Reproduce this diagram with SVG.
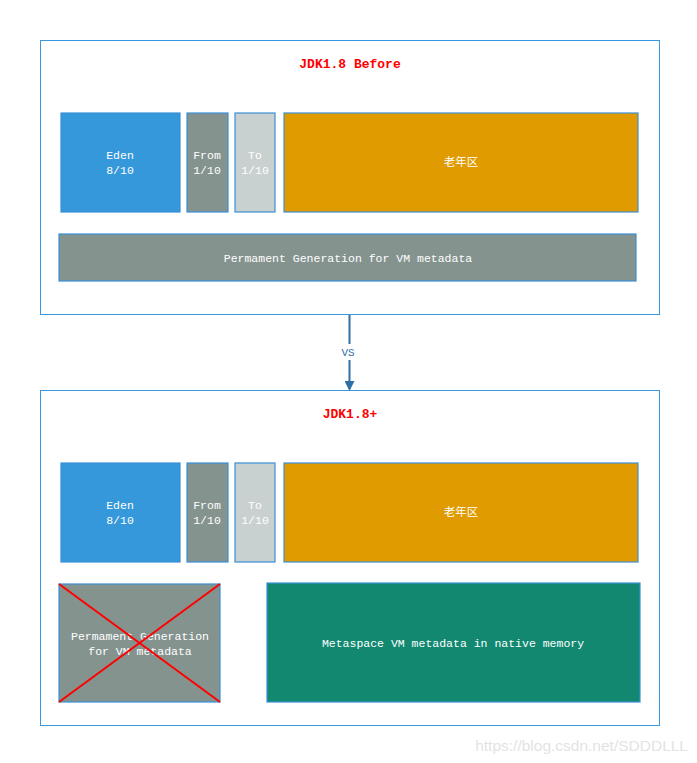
<svg xmlns="http://www.w3.org/2000/svg" width="697" height="763" viewBox="0 0 697 763">
<defs>
<style>
.frame{fill:#fff;stroke:#3a96dd;stroke-width:1}
.blk{stroke:#3a8fd6;stroke-width:1.2}
.t{font-family:"Liberation Mono","Noto Sans CJK SC",monospace;font-size:11.5px;fill:#fff;text-anchor:middle}
.title{font-family:"Liberation Mono",monospace;font-size:13px;font-weight:bold;fill:#ff0000;text-anchor:middle}
</style>
<marker id="ah" markerWidth="10" markerHeight="10" refX="8" refY="5" orient="auto" markerUnits="userSpaceOnUse">
<path d="M0,0 L10,5 L0,10 Z" fill="#2f6fa8"/>
</marker>
</defs>
<rect width="697" height="763" fill="#fff"/>
<g id="before">
<rect class="frame" x="40.5" y="40.5" width="619" height="274"/>
<text class="title" x="350" y="68">JDK1.8 Before</text>
</g>
<g id="eden1"><rect class="blk" x="61" y="113" width="119" height="99" fill="#3598db"/><text class="t" x="120" y="159">Eden</text><text class="t" x="120" y="174">8/10</text></g>
<g id="from1"><rect class="blk" x="187" y="113" width="41" height="99" fill="#85938f"/><text class="t" x="207" y="159">From</text><text class="t" x="207" y="174">1/10</text></g>
<g id="to1"><rect class="blk" x="235" y="113" width="40" height="99" fill="#c9d1d0"/><text class="t" x="255" y="159">To</text><text class="t" x="255" y="174">1/10</text></g>
<g id="old1"><rect class="blk" x="284" y="113" width="354" height="99" fill="#e09b00"/><text class="t" x="461" y="166">老年区</text></g>
<g id="perm1"><rect class="blk" x="59" y="234" width="577" height="47" fill="#85938f"/><text class="t" x="348" y="262">Permament Generation for VM metadata</text></g>
<g id="after">
<rect class="frame" x="40.5" y="390.5" width="619" height="335"/>
<text class="title" x="350" y="418">JDK1.8+</text>
</g>
<g id="eden2"><rect class="blk" x="61" y="463" width="119" height="99" fill="#3598db"/><text class="t" x="120" y="509">Eden</text><text class="t" x="120" y="524">8/10</text></g>
<g id="from2"><rect class="blk" x="187" y="463" width="41" height="99" fill="#85938f"/><text class="t" x="207" y="509">From</text><text class="t" x="207" y="524">1/10</text></g>
<g id="to2"><rect class="blk" x="235" y="463" width="40" height="99" fill="#c9d1d0"/><text class="t" x="255" y="509">To</text><text class="t" x="255" y="524">1/10</text></g>
<g id="old2"><rect class="blk" x="284" y="463" width="354" height="99" fill="#e09b00"/><text class="t" x="461" y="516">老年区</text></g>
<g id="perm2"><rect class="blk" x="59" y="584" width="161" height="118" fill="#85938f"/><text class="t" x="140" y="640">Permament Generation</text><text class="t" x="140" y="655">for VM metadata</text>
<line x1="59" y1="584" x2="220" y2="702" stroke="#ff0000" stroke-width="2"/><line x1="220" y1="584" x2="59" y2="702" stroke="#ff0000" stroke-width="2"/></g>
<g id="meta"><rect class="blk" x="267" y="583" width="373" height="119" fill="#128871"/><text class="t" x="453" y="647">Metaspace VM metadata in native memory</text></g>
<g id="connectors">
<line x1="349.5" y1="315" x2="349.5" y2="344" stroke="#2f6fa8" stroke-width="2"/>
<line x1="349.5" y1="360" x2="349.5" y2="389" stroke="#2f6fa8" stroke-width="2" marker-end="url(#ah)"/>
<text x="348" y="356" font-family="Liberation Mono,monospace" font-size="11px" fill="#2f6fa8" text-anchor="middle">VS</text>
</g>
<text x="688" y="751" font-family="Liberation Sans,Arial,sans-serif" font-size="15.5px" fill="#e3e3e3" text-anchor="end">https://blog.csdn.net/SDDDLLL</text>
</svg>
